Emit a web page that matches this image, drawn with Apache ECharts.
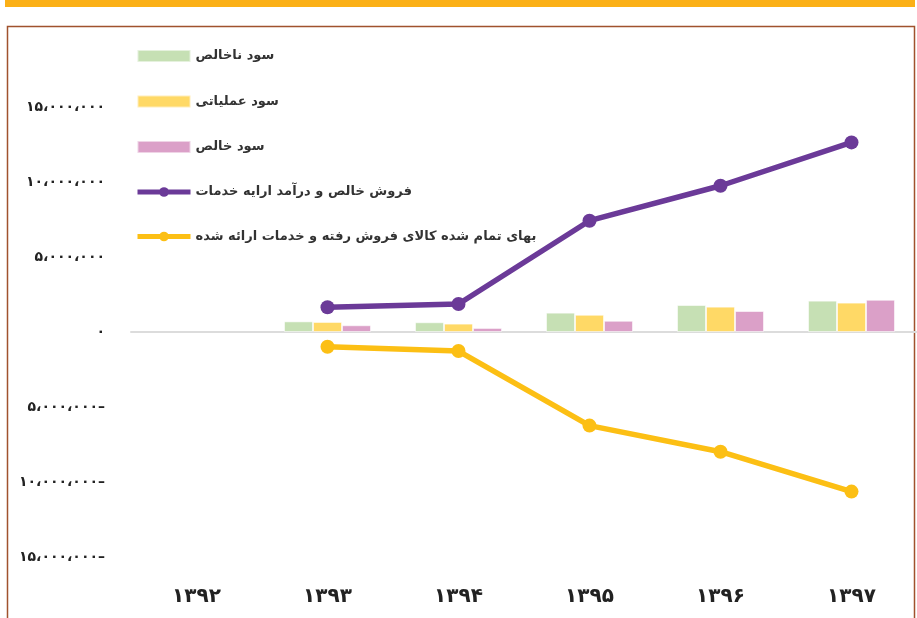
<!DOCTYPE html>
<html>
<head>
<meta charset="utf-8">
<script src="https://cdn.jsdelivr.net/npm/echarts@6/dist/echarts.min.js"></script>
<style>
  html, body { margin: 0; padding: 0; background: #fff; }
  #chart { width: 917px; height: 618px; }
</style>
</head>
<body>
<div id="chart"></div>
<script>
// سال‌ها و مقادیر (ریال)
const years = ['۱۳۹۲', '۱۳۹۳', '۱۳۹۴', '۱۳۹۵', '۱۳۹۶', '۱۳۹۷']
const grossProfit = [null, 710000, 650000, 1290000, 1800000, 2090000]
const operatingProfit = [null, 670000, 560000, 1150000, 1690000, 1960000]
const netProfit = [null, 450000, 270000, 750000, 1400000, 2150000]
const netSales = [null, 1650000, 1870000, 7420000, 9750000, 12640000]
const costOfSales = [null, -980000, -1270000, -6240000, -7980000, -10640000]

const yTicks = [-15000000, -10000000, -5000000, 0, 5000000, 10000000, 15000000]
const yTickLabels = ['۱۵،۰۰۰،۰۰۰–', '۱۰،۰۰۰،۰۰۰–', '۵،۰۰۰،۰۰۰–', '۰', '۵،۰۰۰،۰۰۰', '۱۰،۰۰۰،۰۰۰', '۱۵،۰۰۰،۰۰۰']

const seriesNames = [
  'سود ناخالص',
  'سود عملیاتی',
  'سود خالص',
  'فروش خالص و درآمد ارایه خدمات',
  'بهای تمام شده کالای فروش رفته و خدمات ارائه شده',
]

const FONT = "'DejaVu Sans', sans-serif"

const chart = echarts.init(document.getElementById('chart'))

function barSeries(name, data, color) {
  return {
    name,
    type: 'bar',
    data,
    barWidth: 29,
    barGap: '0%',
    itemStyle: { color, borderColor: 'rgba(255,255,255,0.55)', borderWidth: 1 },
  }
}

function lineSeries(name, data, color) {
  return {
    name,
    type: 'line',
    data,
    symbol: 'circle',
    symbolSize: 14,
    lineStyle: { color, width: 5.5 },
    itemStyle: { color },
    z: 5,
  }
}

chart.setOption({
  animation: false,
  graphic: [
    { type: 'rect', shape: { x: 5, y: 0, width: 910, height: 7 }, style: { fill: '#fbb017' }, silent: true },
    { type: 'rect', shape: { x: 7.5, y: 26.5, width: 907, height: 700 }, style: { fill: 'none', stroke: '#a0522d', lineWidth: 1.5 }, silent: true, z: -1 },
  ],
  legend: {
    orient: 'vertical',
    left: 130,
    top: 44,
    itemWidth: 53,
    itemHeight: 12,
    itemGap: 31.5,
    z: 10,
    data: seriesNames.map((n, i) => (i < 3
      ? { name: n, icon: 'rect' }
      : { name: n, lineStyle: { width: 5 } })),
    textStyle: { fontFamily: FONT, fontWeight: 'bold', fontSize: 13, color: '#333' },
  },
  grid: { left: 131, right: 0, top: 107, bottom: 61 },
  xAxis: [
    {
      type: 'category',
      data: years,
      axisLine: { show: false, onZero: false },
      axisTick: { show: false },
      axisLabel: { margin: 30, fontFamily: FONT, fontWeight: 'bold', fontSize: 20, color: '#222' },
    },
    {
      type: 'category',
      data: years,
      position: 'top',
      axisLine: { show: true, onZero: true, lineStyle: { color: '#dcdcdc', width: 2 } },
      axisTick: { show: false },
      axisLabel: { show: false },
    },
  ],
  yAxis: {
    type: 'value',
    min: -15000000,
    max: 15000000,
    interval: 5000000,
    splitLine: { show: false },
    axisLine: { show: false },
    axisTick: { show: false },
    axisLabel: {
      margin: 26,
      fontFamily: FONT,
      fontWeight: 'bold',
      fontSize: 14,
      color: '#222',
      formatter: (v) => yTickLabels[yTicks.indexOf(v)] ?? '',
    },
  },
  series: [
    barSeries(seriesNames[0], grossProfit, '#c6e0b4'),
    barSeries(seriesNames[1], operatingProfit, '#ffd966'),
    barSeries(seriesNames[2], netProfit, '#dba0c8'),
    lineSeries(seriesNames[3], netSales, '#6b3a98'),
    lineSeries(seriesNames[4], costOfSales, '#fcbf14'),
  ],
})
</script>
</body>
</html>
